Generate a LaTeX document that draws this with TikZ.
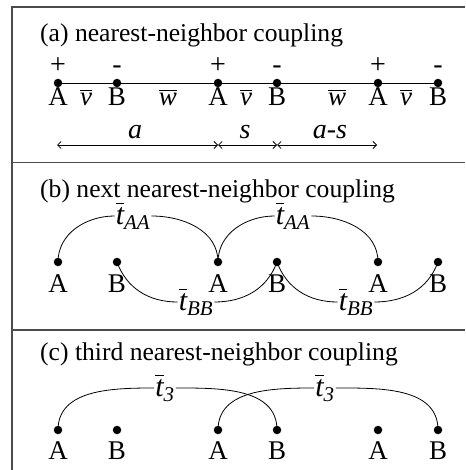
\documentclass[tikz,border=0pt]{standalone}
\usepackage{amsmath}
\usepackage{fontspec}
\setmainfont{Liberation Serif}
\usetikzlibrary{arrows.meta}
\newcommand\olit[1]{$\overline{\text{\itshape #1}}$}
\newcommand\tsub[2]{$\overline{\text{\itshape #1}}_{\text{\itshape #2}}$}
\begin{document}
\begin{tikzpicture}[x=1pt,y=-1pt,
  dot/.style={circle,fill=black,inner sep=0pt,minimum size=8.5pt},
  lbl/.style={anchor=base,inner sep=0pt,font=\fontsize{27}{30}\selectfont},
  sgn/.style={anchor=base,inner sep=0pt,font=\fontsize{28}{30}\selectfont},
  coup/.style={inner sep=1pt,font=\fontsize{30}{32}\selectfont},
  ttl/.style={anchor=base west,inner sep=0pt,font=\fontsize{25.6}{30}\selectfont},
  frame/.style={draw=black!70,line width=1.5pt},
  conn/.style={line width=0.8pt},
  dim/.style={line width=0.8pt,{Straight Barb[length=3.5pt,width=7pt]}-{Straight Barb[length=3.5pt,width=7pt]}}]
\useasboundingbox (0,0) rectangle (465,470);
% frame
\draw[frame] (12,470) -- (12,7) -- (465,7);
\draw[frame] (12,162.5) -- (465,162.5);
\draw[frame] (12,330) -- (465,330);

% ---------- (a)
\node[ttl] (ta) at (40,42) {(a) nearest-neighbor coupling};
\node[dot] (pa1) at (58,83) {};
\node[dot] (pb1) at (117,83) {};
\node[dot] (pa2) at (218,83) {};
\node[dot] (pb2) at (277,83) {};
\node[dot] (pa3) at (378,83) {};
\node[dot] (pb3) at (438,83) {};
\draw[conn] (pa1) -- (pb1) -- (pa2) -- (pb2) -- (pa3) -- (pb3);
\node[sgn] (sa1) at (58,74) {+};
\node[sgn] (sb1) at (117,74) {-};
\node[sgn] (sa2) at (218,74) {+};
\node[sgn] (sb2) at (277,74) {-};
\node[sgn] (sa3) at (378,74) {+};
\node[sgn] (sb3) at (438,74) {-};
\node[lbl] (la1) at (58,106) {A};
\node[lbl] (lb1) at (117,106) {B};
\node[lbl] (la2) at (218,106) {A};
\node[lbl] (lb2) at (277,106) {B};
\node[lbl] (la3) at (378,106) {A};
\node[lbl] (lb3) at (438,106) {B};
\node[lbl] (v1) at (86,106) {\olit{v}};
\node[lbl] (w1) at (168,106) {\olit{w}};
\node[lbl] (v2) at (246,106) {\olit{v}};
\node[lbl] (w2) at (337,106) {\olit{w}};
\node[lbl] (v3) at (406,106) {\olit{v}};
\coordinate (d0) at (57,145);
\coordinate (d1) at (218,145);
\coordinate (d2) at (277,145);
\coordinate (d3) at (377,145);
\draw[dim] (d0) -- (d1);
\draw[dim] (d1) -- (d2);
\draw[dim] (d2) -- (d3);
\node[lbl,font=\fontsize{28}{30}\selectfont] (da) at (135,139) {\itshape a};
\node[lbl,font=\fontsize{28}{30}\selectfont] (ds) at (245,139) {\itshape s};
\node[lbl,font=\fontsize{28}{30}\selectfont] (das) at (330,139) {\itshape a-s};

% ---------- (b)
\node[ttl] (tb) at (40,197) {(b) next nearest-neighbor coupling};
\node[dot] (qa1) at (58,262) {};
\node[dot] (qb1) at (117,262) {};
\node[dot] (qa2) at (218,262) {};
\node[dot] (qb2) at (277,262) {};
\node[dot] (qa3) at (378,262) {};
\node[dot] (qb3) at (438,262) {};
\node[lbl] (ma1) at (58,292) {A};
\node[lbl] (mb1) at (117,292) {B};
\node[lbl] (ma2) at (218,292) {A};
\node[lbl] (mb2) at (277,292) {B};
\node[lbl] (ma3) at (378,292) {A};
\node[lbl] (mb3) at (438,292) {B};
\node[coup] (taa1) at (133,216) {\tsub{t}{AA}};
\node[coup] (taa2) at (293,216) {\tsub{t}{AA}};
\node[coup] (tbb1) at (196,302) {\tsub{t}{BB}};
\node[coup] (tbb2) at (356,302) {\tsub{t}{BB}};
\draw[conn] (qa1.center) to[out=90,in=180] (taa1.west);
\draw[conn] (taa1.east) to[out=0,in=90] (qa2.center);
\draw[conn] (qa2.center) to[out=90,in=180] (taa2.west);
\draw[conn] (taa2.east) to[out=0,in=90] (qa3.center);
\draw[conn] (qb1.center) to[out=-70,in=180] (tbb1.west);
\draw[conn] (tbb1.east) to[out=0,in=-110] (qb2.center);
\draw[conn] (qb2.center) to[out=-70,in=180] (tbb2.west);
\draw[conn] (tbb2.east) to[out=0,in=-110] (qb3.center);

% ---------- (c)
\node[ttl] (tc) at (40,360) {(c) third nearest-neighbor coupling};
\node[dot] (ra1) at (58,430) {};
\node[dot] (rb1) at (117,430) {};
\node[dot] (ra2) at (218,430) {};
\node[dot] (rb2) at (277,430) {};
\node[dot] (ra3) at (378,430) {};
\node[dot] (rb3) at (438,430) {};
\node[lbl] (na1) at (58,459) {A};
\node[lbl] (nb1) at (117,459) {B};
\node[lbl] (na2) at (218,459) {A};
\node[lbl] (nb2) at (277,459) {B};
\node[lbl] (na3) at (378,459) {A};
\node[lbl] (nb3) at (438,459) {B};
\node[coup] (t31) at (165,388) {\olit{t}$_{\text{\itshape 3}}$};
\node[coup] (t32) at (325,388) {\olit{t}$_{\text{\itshape 3}}$};
\draw[conn] (ra1.center) to[out=90,in=180] (t31.west);
\draw[conn] (t31.east) to[out=0,in=90] (rb2.center);
\draw[conn] (ra2.center) to[out=90,in=180] (t32.west);
\draw[conn] (t32.east) to[out=0,in=90] (rb3.center);
\end{tikzpicture}
\end{document}
